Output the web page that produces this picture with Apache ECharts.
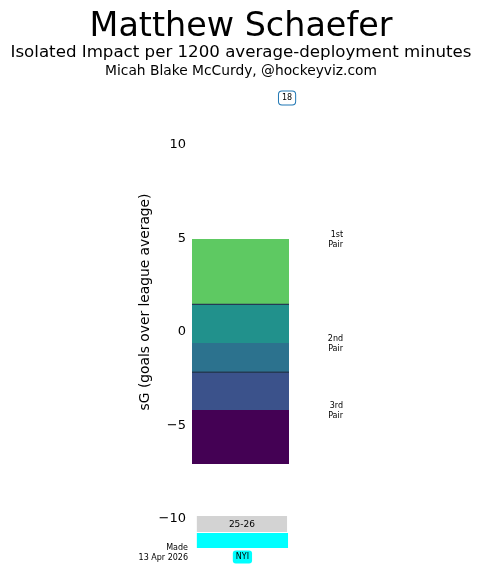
<!DOCTYPE html>
<html>
<head>
<meta charset="utf-8">
<script src="https://cdn.jsdelivr.net/npm/echarts@6/dist/echarts.min.js"></script>
<style>html,body{margin:0;padding:0;background:#fff}#c{width:482px;height:572px}</style>
</head>
<body>
<div id="c"></div>
<script>
// ---- data ----
const playerName = 'Matthew Schaefer';
const subtitle = 'Isolated Impact per 1200 average-deployment minutes';
const credit = 'Micah Blake McCurdy, @hockeyviz.com';
const madeText = 'Made\n13 Apr 2026';
const yTicks = [-10, -5, 0, 5, 10];
const segmentBounds = [4.87, 1.37, -0.70, -2.26, -4.28, -7.17];
const pairLineValues = [1.37, -2.26];
const pairLabels = ['1st\nPair', '2nd\nPair', '3rd\nPair'];
const pairLabelValues = [4.87, -0.70, -4.28];
const seasons = ['25-26'];
const teams = ['NYI'];
const gamesPlayed = [18];

// ---- styles ----
const FONT = 'DejaVu Sans';
const segColors = ['#5ec962', '#21918c', '#2c728e', '#3b528b', '#440154'];

const segData = [];
for (let i = 0; i < segmentBounds.length - 1; i++) {
  segData.push([0, segmentBounds[i], 1, segmentBounds[i + 1], i]);
}

const chart = echarts.init(document.getElementById('c'), null, {renderer: 'canvas'});
chart.setOption({
  animation: false,
  backgroundColor: '#fff',
  textStyle: {fontFamily: FONT},
  graphic: [
    {type: 'text', x: 241, y: 27, style: {text: playerName, font: '33.4px "DejaVu Sans"', fill: '#000', align: 'center', verticalAlign: 'middle'}},
    {type: 'text', x: 241, y: 52.4, style: {text: subtitle, font: '16.65px "DejaVu Sans"', fill: '#000', align: 'center', verticalAlign: 'middle'}},
    {type: 'text', x: 241, y: 71, style: {text: credit, font: '13.8px "DejaVu Sans"', fill: '#000', align: 'center', verticalAlign: 'middle'}},
    {type: 'text', x: 188, y: 553, style: {text: madeText, font: '8px "DejaVu Sans"', fill: '#000', align: 'right', verticalAlign: 'middle', lineHeight: 10}}
  ],
  grid: {left: 192, top: 49.5, width: 194, height: 504.9, containLabel: false},
  xAxis: {type: 'value', min: 0, max: 2, show: false},
  yAxis: {
    type: 'value', min: -12, max: 15,
    name: 'sG (goals over league average)', nameLocation: 'middle', nameGap: 40, nameRotate: 90,
    nameTextStyle: {fontFamily: FONT, fontSize: 13.8, color: '#000'},
    axisLine: {show: false}, axisTick: {show: false}, splitLine: {show: false},
    axisLabel: {
      customValues: yTicks, margin: 6, fontFamily: FONT, fontSize: 13, color: '#000',
      formatter: v => '{t|' + String(v).replace('-', '\u2212') + '}',
      rich: {t: {fontFamily: FONT, fontSize: 13, color: '#000', padding: [4, 0, 0, 0]}}
    }
  },
  series: [
    {
      type: 'custom', clip: false,
      data: segData,
      renderItem: function (params, api) {
        const p0 = api.coord([api.value(0), api.value(1)]);
        const p1 = api.coord([api.value(2), api.value(3)]);
        return {type: 'rect', shape: {x: p0[0], y: p0[1], width: p1[0] - p0[0], height: p1[1] - p0[1]},
          style: {fill: segColors[api.value(4)]}};
      }
    },
    {
      type: 'custom', clip: false,
      data: pairLineValues.map(v => [0, v, 1]),
      renderItem: function (params, api) {
        const p0 = api.coord([api.value(0), api.value(1)]);
        const p1 = api.coord([api.value(2), api.value(1)]);
        return {type: 'line', shape: {x1: p0[0], y1: p0[1], x2: p1[0], y2: p1[1]},
          style: {stroke: '#253a55', lineWidth: 1.3}};
      }
    },
    {
      type: 'custom', clip: false,
      data: pairLabelValues.map((v, i) => [1.557, v, i]),
      renderItem: function (params, api) {
        const p = api.coord([api.value(0), api.value(1)]);
        return {type: 'text', x: p[0], y: p[1] + 0.5,
          style: {text: pairLabels[api.value(2)], font: '8px "DejaVu Sans"', fill: '#000', align: 'right', verticalAlign: 'middle', lineHeight: 10}};
      }
    },
    {
      type: 'custom', clip: false,
      data: seasons.map((s, i) => [i]),
      renderItem: function (params, api) {
        const i = api.value(0);
        const g1 = api.coord([0.05, -9.94]);
        const g2 = api.coord([0.98, -10.80]);
        const c1 = api.coord([0.05, -10.86]);
        const c2 = api.coord([0.99, -11.66]);
        const nb = api.coord([0.52, -12.14]);
        const gb = api.coord([0.98, 12.41]);
        return {type: 'group', children: [
          {type: 'rect', shape: {x: g1[0], y: g1[1], width: g2[0] - g1[0], height: g2[1] - g1[1]}, style: {fill: '#d3d3d3'}},
          {type: 'text', x: (g1[0] + g2[0]) / 2, y: (g1[1] + g2[1]) / 2 + 0.5,
            style: {text: seasons[i], font: '9px "DejaVu Sans"', fill: '#000', align: 'center', verticalAlign: 'middle'}},
          {type: 'rect', shape: {x: c1[0], y: c1[1], width: c2[0] - c1[0], height: c2[1] - c1[1]}, style: {fill: '#00ffff'}},
          {type: 'text', x: nb[0], y: nb[1],
            style: {text: teams[i], font: '8px "DejaVu Sans"', fill: '#000', align: 'center', verticalAlign: 'middle',
              backgroundColor: '#00ffff', borderRadius: 3, padding: [3, 3, 2, 3]}},
          {type: 'text', x: gb[0], y: gb[1],
            style: {text: String(gamesPlayed[i]), font: '8px "DejaVu Sans"', fill: '#000', align: 'center', verticalAlign: 'middle',
              backgroundColor: '#fff', borderColor: '#1f77b4', borderWidth: 1, borderRadius: 3, padding: [3, 3, 2, 3]}}
        ]};
      }
    }
  ]
});
</script>
</body>
</html>
